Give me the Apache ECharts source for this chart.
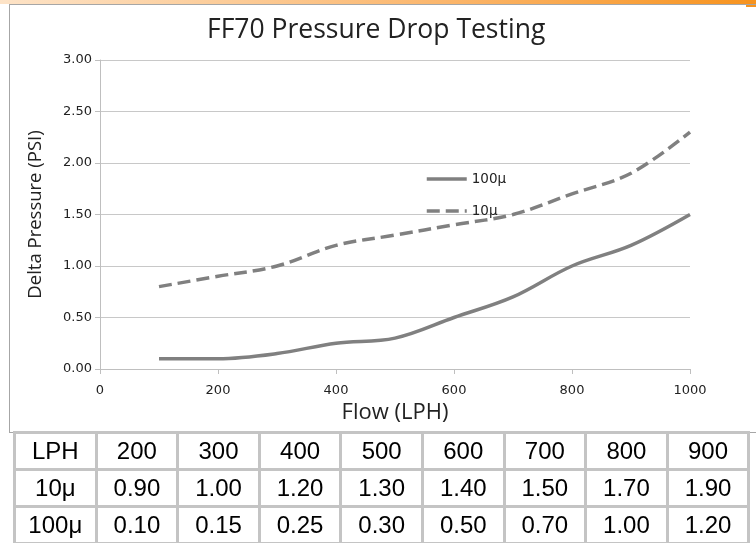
<!DOCTYPE html>
<html>
<head>
<meta charset="utf-8">
<script src="https://cdn.jsdelivr.net/npm/echarts@6/dist/echarts.min.js"></script>
<style>
    body { margin: 0; background: #fff; }
    #page { position: relative; width: 756px; height: 543px; overflow: hidden; background: #fff; }
    #topBar {
        position: absolute; left: 0; top: 0; width: 756px; height: 4px;
        background: linear-gradient(to right, #fde3c7, #fbb56a 60%, #f7931e);
    }
    #topCorner { position: absolute; left: 746px; top: 0; width: 10px; height: 7px; background: #f7931e; }
    #frame {
        position: absolute; left: 9px; top: 4px; width: 760px; height: 427px;
        border: 1px solid #a6a6a6;
    }
    #chart { position: absolute; left: 0; top: 0; width: 756px; height: 432px; }
    #dataTable {
        position: absolute; left: 13px; top: 431px;
        border-collapse: collapse;
        table-layout: fixed;
        font-family: "Liberation Sans", Arial, sans-serif;
        font-size: 24px; color: #000;
    }
    #dataTable td {
        border: 3px solid #c4c4c4;
        width: 78.6px; height: 34px;
        text-align: center; padding: 0;
        line-height: 34px;
    }
</style>
</head>
<body>
<div id="page">
    <div id="topBar"></div>
    <div id="topCorner"></div>
    <div id="frame"></div>
    <div id="chart"></div>
    <table id="dataTable"></table>
</div>
<script>
// 数据
const flow = [100, 200, 300, 400, 500, 600, 700, 800, 900, 1000];
const p10 = [0.80, 0.90, 1.00, 1.20, 1.30, 1.40, 1.50, 1.70, 1.90, 2.30];
const p100 = [0.10, 0.10, 0.15, 0.25, 0.30, 0.50, 0.70, 1.00, 1.20, 1.50];

// 表格
const tableHead = ["LPH", "200", "300", "400", "500", "600", "700", "800", "900"];
const tableRow10 = ["10μ", "0.90", "1.00", "1.20", "1.30", "1.40", "1.50", "1.70", "1.90"];
const tableRow100 = ["100μ", "0.10", "0.15", "0.25", "0.30", "0.50", "0.70", "1.00", "1.20"];

let tbl = document.getElementById("dataTable");
[tableHead, tableRow10, tableRow100].forEach(function (row) {
    let tr = document.createElement("tr");
    row.forEach(function (cell) {
        let td = document.createElement("td");
        td.textContent = cell;
        tr.appendChild(td);
    });
    tbl.appendChild(tr);
});

function pairs(ys) {
    let out = [];
    for (let i = 0; i < flow.length; i++) out.push([flow[i], ys[i]]);
    return out;
}

const grey = "#808080";
const labelFont = "DejaVu Sans, Verdana, sans-serif";
const titleFont = "'Open Sans', Lato, sans-serif";

let chart = echarts.init(document.getElementById("chart"));
chart.setOption({
    animation: false,
    title: {
        text: "FF70 Pressure Drop Testing",
        left: 207,
        top: 17,
        padding: 0,
        textStyle: { fontFamily: titleFont, fontWeight: "normal", fontSize: 26.5, color: "#222" }
    },
    legend: {
        orient: "vertical",
        left: 425,
        top: 172,
        padding: 0,
        itemWidth: 40,
        itemHeight: 14,
        itemGap: 18,
        data: ["100μ", "10μ"],
        itemStyle: { opacity: 0 },
        lineStyle: { width: 3.5 },
        textStyle: { fontFamily: labelFont, fontSize: 13.5, color: "#222" }
    },
    grid: { left: 100, right: 66, top: 60, bottom: 63 },
    xAxis: {
        type: "value",
        min: 0,
        max: 1000,
        interval: 200,
        name: "Flow (LPH)",
        nameLocation: "middle",
        nameGap: 29,
        nameTextStyle: { fontFamily: titleFont, fontSize: 22, color: "#222" },
        axisLine: { show: true, lineStyle: { color: "#bfbfbf" } },
        axisTick: { show: true, length: 5, lineStyle: { color: "#bfbfbf" } },
        axisLabel: {
            fontFamily: labelFont, fontSize: 13, color: "#222", margin: 15,
            formatter: function (v) { return String(v); }
        },
        splitLine: { show: false }
    },
    yAxis: {
        type: "value",
        min: 0,
        max: 3,
        interval: 0.5,
        name: "Delta Pressure (PSI)",
        nameLocation: "middle",
        nameGap: 55,
        nameTextStyle: { fontFamily: titleFont, fontSize: 18.5, color: "#222" },
        axisLine: { show: true, lineStyle: { color: "#bfbfbf" } },
        axisTick: { show: true, length: 5, inside: false, lineStyle: { color: "#bfbfbf" } },
        axisLabel: {
            fontFamily: labelFont, fontSize: 13, color: "#222", margin: 8,
            formatter: function (v) { return v.toFixed(2); }
        },
        splitLine: { show: true, lineStyle: { color: "#c8c8c8" } }
    },
    series: [
        {
            name: "100μ",
            type: "line",
            smooth: 0.35,
            symbol: "none",
            data: pairs(p100),
            lineStyle: { color: grey, width: 3.5 },
            itemStyle: { color: grey }
        },
        {
            name: "10μ",
            type: "line",
            smooth: 0.35,
            symbol: "none",
            data: pairs(p10),
            lineStyle: { color: grey, width: 3.5, type: [13, 6] },
            itemStyle: { color: grey }
        }
    ]
});
</script>
</body>
</html>
